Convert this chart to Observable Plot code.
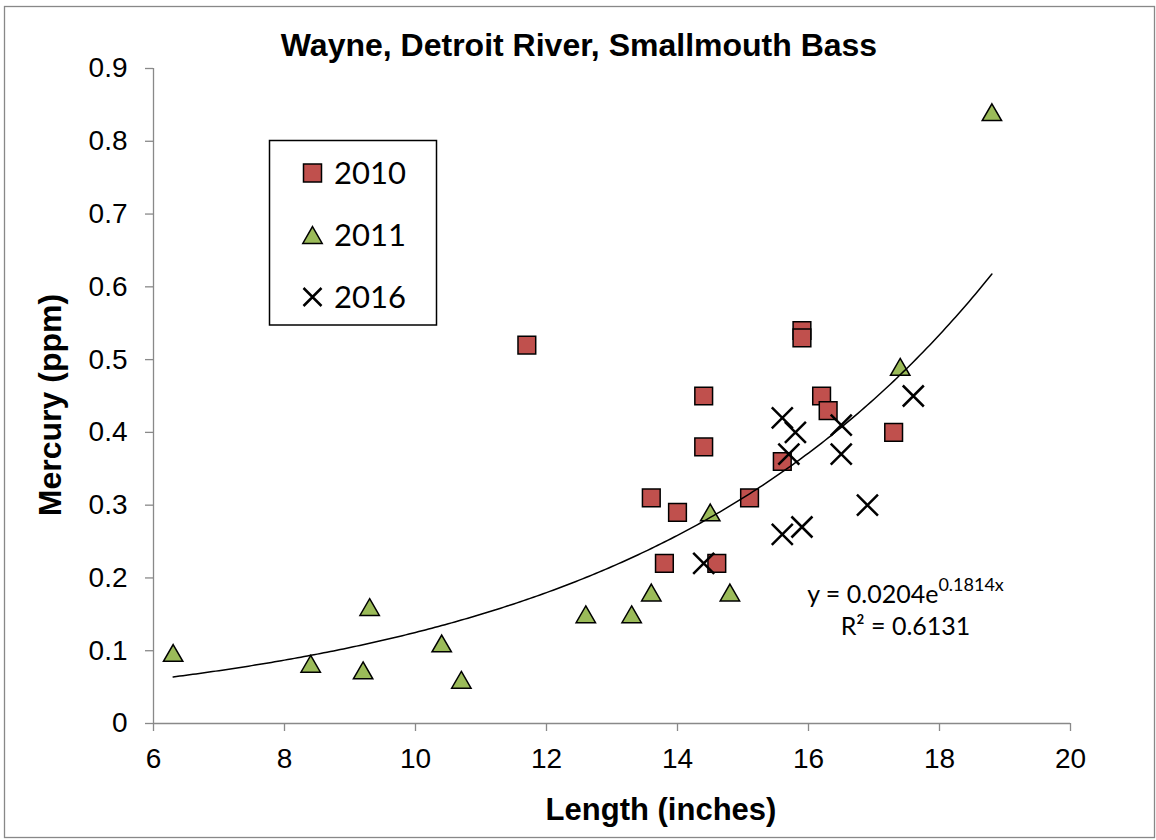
<!DOCTYPE html>
<html>
<head>
<meta charset="utf-8">
<script src="https://cdn.jsdelivr.net/npm/d3@7"></script>
<script src="https://cdn.jsdelivr.net/npm/@observablehq/plot@0.6"></script>
<style>
  html, body { margin: 0; padding: 0; background: white; }
  #chart svg { display: block; }
</style>
</head>
<body>
<div id="chart"></div>
<script>
// ---- data ----
const len2010 = [11.7, 13.6, 13.8, 14.0, 14.4, 14.4, 14.6, 15.1, 15.6, 15.9, 15.9, 16.2, 16.3, 17.3];
const hg2010  = [0.52, 0.31, 0.22, 0.29, 0.45, 0.38, 0.22, 0.31, 0.36, 0.54, 0.53, 0.45, 0.43, 0.40];

const len2011 = [6.3, 8.4, 9.2, 9.3, 10.4, 10.7, 12.6, 13.3, 13.6, 14.5, 14.8, 17.4, 18.8];
const hg2011  = [0.097, 0.082, 0.073, 0.16, 0.11, 0.06, 0.15, 0.15, 0.18, 0.29, 0.18, 0.49, 0.84];

const len2016 = [14.4, 15.6, 15.6, 15.7, 15.8, 15.9, 16.5, 16.5, 16.9, 17.6];
const hg2016  = [0.22, 0.42, 0.26, 0.37, 0.40, 0.27, 0.41, 0.37, 0.30, 0.45];

// exponential trendline as printed on the chart
const trendA = 0.0204;
const trendB = 0.1814;
const trendR2 = "0.6131";
const trendRange = [6.3, 18.8];

const xTicks = [6, 8, 10, 12, 14, 16, 18, 20];
const yTicks = [0, 0.1, 0.2, 0.3, 0.4, 0.5, 0.6, 0.7, 0.8, 0.9];
const seriesNames = ["2010", "2011", "2016"];

const titleText = "Wayne, Detroit River, Smallmouth Bass";
const xLabel = "Length (inches)";
const yLabel = "Mercury (ppm)";

// ---- tables ----
const toRows = (xs, ys) => xs.map((x, i) => ({x, y: ys[i]}));
const d2010 = toRows(len2010, hg2010);
const d2011 = toRows(len2011, hg2011);
const d2016 = toRows(len2016, hg2016);
const trend = d3.range(trendRange[0], trendRange[1] + 1e-9, 0.05).map(x => ({x, y: trendA * Math.exp(trendB * x)}));

const RED = "#C0504D", GREEN = "#9BBB59", AXIS = "#898989";
const SANS = "'Liberation Sans', Arial, Helvetica, sans-serif";
const CAL = "Lato, 'Open Sans', sans-serif";
const TRI_R = 7.2, TRI_DY = 2.8;

const chart = Plot.plot({
  width: 1156,
  height: 840,
  marginLeft: 153,
  marginRight: 86,
  marginTop: 68,
  marginBottom: 117,
  style: {fontFamily: SANS, background: "white", color: "black"},
  x: {domain: [6, 20]},
  y: {domain: [0, 0.9]},
  marks: [
    Plot.axisX({ticks: xTicks, tickSize: 8, tickPadding: 17, fontSize: 28, stroke: AXIS, strokeWidth: 1.3, fill: "black", label: null, tickFormat: d => String(d)}),
    Plot.axisY({ticks: yTicks, tickSize: 8, tickPadding: 18, fontSize: 28, stroke: AXIS, strokeWidth: 1.3, fill: "black", label: null, tickFormat: d => d === 0 ? "0" : d.toFixed(1)}),
    Plot.ruleX([6], {stroke: AXIS, strokeWidth: 1.3}),
    Plot.ruleY([0], {stroke: AXIS, strokeWidth: 1.3}),
    Plot.dot(d2010, {x: "x", y: "y", symbol: "square", r: 10, fill: RED, stroke: "black", strokeWidth: 1.5, fillOpacity: 1}),
    Plot.dot(d2011, {x: "x", y: "y", symbol: "triangle", r: TRI_R, dy: TRI_DY, fill: GREEN, stroke: "black", strokeWidth: 1.5, fillOpacity: 1}),
    Plot.dot(d2016, {x: "x", y: "y", symbol: "times", r: 9.6, stroke: "black", strokeWidth: 2.5}),
    Plot.line(trend, {x: "x", y: "y", stroke: "black", strokeWidth: 1.5, curve: "linear"})
  ]
});

const svg = d3.select(chart);

// outer chart border
svg.append("rect").attr("x", 4.5).attr("y", 6.5).attr("width", 1150).attr("height", 831)
  .attr("fill", "none").attr("stroke", "#888").attr("stroke-width", 1.3);

// title
svg.append("text").attr("x", 579).attr("y", 56).attr("text-anchor", "middle")
  .attr("font-family", SANS).attr("font-weight", "bold").attr("font-size", 32).attr("fill", "black")
  .text(titleText);

// axis titles
svg.append("text").attr("x", 661).attr("y", 820).attr("text-anchor", "middle")
  .attr("font-family", SANS).attr("font-weight", "bold").attr("font-size", 31).attr("fill", "black")
  .text(xLabel);
svg.append("text").attr("transform", "translate(61,405) rotate(-90)").attr("text-anchor", "middle")
  .attr("font-family", SANS).attr("font-weight", "bold").attr("font-size", 32).attr("fill", "black")
  .text(yLabel);

// legend
const lg = svg.append("g");
lg.append("rect").attr("x", 269.5).attr("y", 140.5).attr("width", 167).attr("height", 184.5)
  .attr("fill", "white").attr("stroke", "black").attr("stroke-width", 1.5);
const rowsY = [173, 235, 297];
lg.append("rect").attr("x", 312.5 - 9).attr("y", rowsY[0] - 9).attr("width", 18).attr("height", 18)
  .attr("fill", RED).attr("stroke", "black").attr("stroke-width", 1.5);
lg.append("path").attr("transform", `translate(312.5,${rowsY[1] + TRI_DY})`)
  .attr("d", d3.symbol(d3.symbolTriangle, Math.PI * TRI_R * TRI_R)())
  .attr("fill", GREEN).attr("stroke", "black").attr("stroke-width", 1.5);
lg.append("path").attr("transform", `translate(312.5,${rowsY[2]})`)
  .attr("d", "M-9,-9L9,9M-9,9L9,-9")
  .attr("fill", "none").attr("stroke", "black").attr("stroke-width", 2.5);
seriesNames.forEach((name, i) => {
  lg.append("text").attr("x", 334).attr("y", rowsY[i] + 10.5).attr("text-anchor", "start")
    .attr("font-family", CAL).attr("font-size", 31).attr("fill", "black").text(name);
});

// trendline equation
const eq = svg.append("text").attr("x", 905.5).attr("y", 603).attr("text-anchor", "middle")
  .attr("font-family", CAL).attr("font-size", 25).attr("fill", "black");
eq.append("tspan").text(`y = ${trendA.toFixed(4)}e`);
eq.append("tspan").attr("font-size", 18).attr("dy", -12).text(`${trendB.toFixed(4)}x`);
svg.append("text").attr("x", 905.5).attr("y", 635).attr("text-anchor", "middle")
  .attr("font-family", CAL).attr("font-size", 25).attr("fill", "black")
  .text(`R² = ${trendR2}`);

document.getElementById("chart").appendChild(chart);
</script>
</body>
</html>
